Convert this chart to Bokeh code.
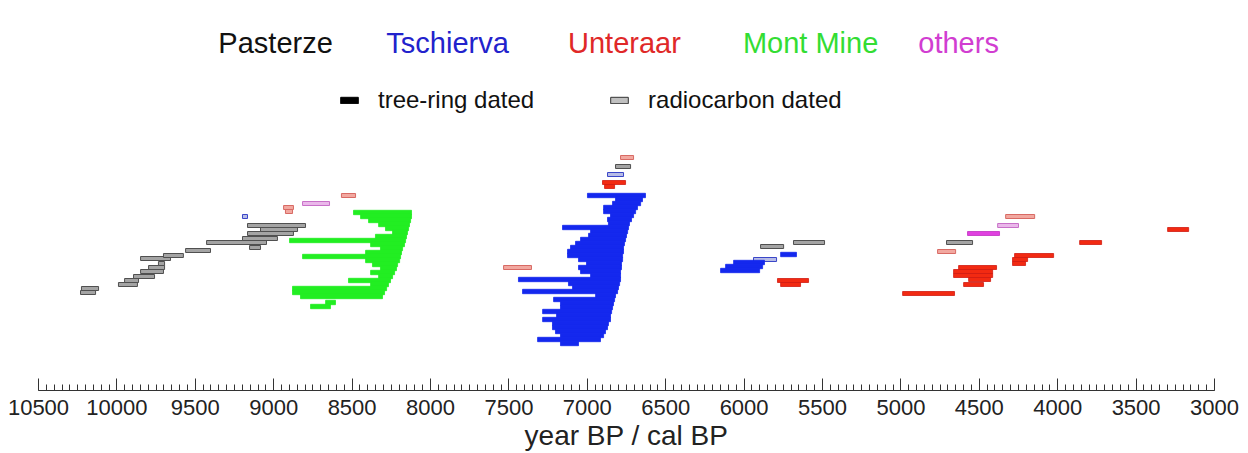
from bokeh.plotting import figure
from bokeh.models import Range1d, SingleIntervalTicker, Label, Legend, LegendItem, ColumnDataSource
from bokeh.embed import file_html
from bokeh.resources import INLINE

# ---------------- data (years BP; level = vertical stacking position) ----------------
# Pasterze - radiocarbon dated
pasterze_rc_start = [10226, 10232, 9990, 9951, 9894, 9849, 9798, 9735, 9849, 9703, 9562, 9428, 9154,
                     9199, 9167, 9084, 9167, 6820, 5895, 5685, 4709]
pasterze_rc_end = [10117, 10136, 9869, 9862, 9760, 9703, 9696, 9696, 9658, 9576, 9403, 9046, 9084,
                   8976, 8874, 8848, 8797, 6724, 5748, 5487, 4543]
pasterze_rc_level = [102, 98, 106, 110, 114, 119, 123, 127, 132, 135, 140, 148, 143,
                     152, 157, 161, 165, 224, 144, 148, 148]

# Tschierva - tree-ring dated
tschierva_tr_start = [6999, 6820, 6839, 6896, 6896, 6852, 6871, 6865, 7158, 6979, 6992, 7043, 7075,
                      7107, 7126, 7126, 7056, 7005, 7056, 7043, 6979, 7439, 7120, 7094, 7413, 6947,
                      7215, 7171, 7171, 7285, 7196, 7285, 7222, 7222, 7203, 7171, 7317, 7171,
                      5767, 6067, 6118, 6150]
tschierva_tr_end = [6629, 6648, 6660, 6680, 6692, 6705, 6718, 6731, 6737, 6743, 6750, 6756, 6763,
                    6769, 6769, 6775, 6775, 6782, 6782, 6788, 6788, 6788, 6794, 6801, 6807, 6820,
                    6826, 6833, 6839, 6845, 6852, 6852, 6865, 6871, 6884, 6896, 6916, 7056,
                    5666, 5870, 5882, 5901]
tschierva_tr_level = [195, 191, 187, 183, 179, 175, 171, 167, 163, 159, 155, 151, 147,
                      143, 139, 135, 131, 127, 123, 119, 115, 111, 107, 103, 99, 95,
                      91, 87, 83, 79, 75, 71, 67, 63, 59, 55, 51, 47,
                      136, 128, 124, 120]

# Tschierva - radiocarbon dated
tschierva_rc_start = [9199, 6871, 5940]
tschierva_rc_end = [9167, 6769, 5793]
tschierva_rc_level = [174, 216, 131]

# Unteraar - tree-ring dated
unteraar_tr_start = [6903, 6890, 5787, 5767, 4632, 4664, 4664, 4568, 4600, 4989, 4275, 4288, 4288, 3860, 3299]
unteraar_tr_end = [6756, 6826, 5589, 5640, 4390, 4415, 4415, 4428, 4473, 4658, 4026, 4192, 4205, 3720, 3165]
unteraar_tr_level = [208, 204, 110, 106, 123, 119, 115, 111, 106, 97, 135, 131, 127, 148, 161]

# Unteraar - radiocarbon dated
unteraar_rc_start = [8937, 8925, 8568, 6788, 7534, 4332, 4766]
unteraar_rc_end = [8874, 8880, 8478, 6705, 7356, 4147, 4651]
unteraar_rc_level = [183, 179, 195, 233, 123, 174, 139]

# Mont Mine - tree-ring dated
montmine_tr_start = [8491, 8446, 8395, 8331, 8287, 8242, 8351, 8899, 8382, 8319, 8414, 8816, 8414,
                     8370, 8319, 8382, 8331, 8523, 8382, 8880, 8880, 8829, 8669, 8765]
montmine_tr_end = [8121, 8121, 8127, 8134, 8140, 8147, 8153, 8159, 8166, 8178, 8185, 8191, 8197,
                   8210, 8217, 8229, 8242, 8255, 8268, 8280, 8293, 8306, 8606, 8638]
montmine_tr_level = [178, 174, 170, 166, 162, 158, 154, 150, 146, 142, 138, 134, 130,
                     126, 122, 118, 114, 110, 106, 102, 98, 94, 88, 84]

# others
others_tr_start = [4575]
others_tr_end = [4371]
others_tr_level = [157]
others_rc_start = [8816, 4383]
others_rc_end = [8644, 4250]
others_rc_level = [187, 165]

glacier_names = ["Pasterze", "Tschierva", "Unteraar", "Mont Mine", "others"]
glacier_colors = ["#111111", "#2222cc", "#e02828", "#33dd33", "#d13dd1"]
dating_labels = ["tree-ring dated", "radiocarbon dated"]

FONT = "Liberation Sans"

p = figure(frame_width=1176, frame_height=390, output_backend="svg", toolbar_location=None,
           x_range=Range1d(10500, 3000), y_range=Range1d(0, 390),
           min_border_left=38, min_border_right=32, min_border_top=0, min_border_bottom=0,
           y_axis_location=None)
p.outline_line_color = None
p.xgrid.visible = False
p.ygrid.visible = False
p.background_fill_color = "white"
p.border_fill_color = "white"


def bars(start, end, level, fill, line, lw=1.0, h=4.0):
    src = ColumnDataSource(dict(left=start, right=end, y=level))
    return p.hbar(y="y", left="left", right="right", height=h, source=src,
                  fill_color=fill, line_color=line, line_width=lw)


# radiocarbon dated (light fill, outline)
r_rc = bars(pasterze_rc_start, pasterze_rc_end, pasterze_rc_level, "#a4a4a4", "#505050")
bars(tschierva_rc_start, tschierva_rc_end, tschierva_rc_level, "#b8bde6", "#3a46c8")
bars(unteraar_rc_start, unteraar_rc_end, unteraar_rc_level, "#f2a8a0", "#d86a64")
bars(others_rc_start, others_rc_end, others_rc_level, "#eab8ea", "#c870c8")

# tree-ring dated (solid)
bars(montmine_tr_start, montmine_tr_end, montmine_tr_level, "#22ee22", "#22ee22", 0.8, 4.4)
r_tsch = bars(tschierva_tr_start, tschierva_tr_end, tschierva_tr_level, "#1428ee", "#1428ee", 0.8, 4.4)
bars(unteraar_tr_start, unteraar_tr_end, unteraar_tr_level, "#f22a12", "#d01a10", 0.8)
bars(others_tr_start, others_tr_end, others_tr_level, "#e040e0", "#c030c0", 0.8)

# glacier name labels
name_x = [8988, 7891, 6763, 5576, 4632]
for name, col, x in zip(glacier_names, glacier_colors, name_x):
    p.add_layout(Label(x=x, y=348, text=name, text_align="center", text_baseline="middle",
                       text_font_size="29px", text_color=col, text_font=FONT))

# dating-method legend keys (hidden copies, styled black / grey)
key_tr = p.hbar(y="y", left="left", right="right", height=4, source=r_tsch.data_source,
                fill_color="black", line_color="black", visible=False)
key_rc = p.hbar(y="y", left="left", right="right", height=4, source=r_rc.data_source,
                fill_color="#c0c0c0", line_color="#333333", visible=False)
legend = Legend(items=[LegendItem(label=dating_labels[0], renderers=[key_tr]),
                       LegendItem(label=dating_labels[1], renderers=[key_rc])],
                orientation="horizontal", location=(300, 276),
                glyph_width=22, glyph_height=8, label_standoff=18, spacing=74,
                padding=0, margin=0, border_line_alpha=0, background_fill_alpha=0,
                inactive_fill_alpha=0, click_policy="none",
                label_text_font_size="24px", label_text_font=FONT, label_text_color="#111111")
p.add_layout(legend, "center")

ax = p.xaxis[0]
ax.ticker = SingleIntervalTicker(interval=500, num_minor_ticks=10)
ax.major_tick_in = 12
ax.major_tick_out = 0
ax.minor_tick_in = 6
ax.minor_tick_out = 0
ax.axis_line_color = "#333333"
ax.major_tick_line_color = "#333333"
ax.minor_tick_line_color = "#333333"
ax.major_label_text_font = FONT
ax.major_label_text_font_size = "22px"
ax.major_label_text_color = "#222222"
ax.major_label_text_line_height = 1.0
ax.major_label_standoff = 9
ax.axis_label = "year BP / cal BP"
ax.axis_label_text_font = FONT
ax.axis_label_text_font_size = "28px"
ax.axis_label_text_font_style = "normal"
ax.axis_label_text_color = "#222222"
ax.axis_label_text_line_height = 1.0
ax.axis_label_standoff = 2

open("out.html", "w").write(file_html(p, INLINE))
